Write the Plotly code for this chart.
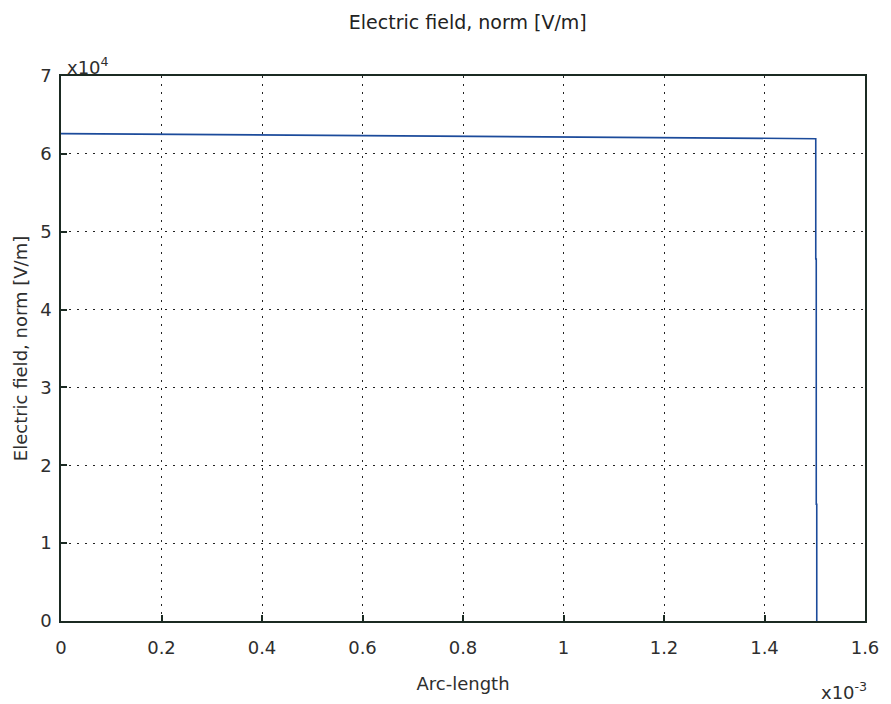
import plotly.graph_objects as go

# Electric field norm along the arc (arc-length in metres, field in V/m)
arc_length = [0.0, 0.0004, 0.0008, 0.0012, 0.001502, 0.001502, 0.001503, 0.001503, 0.001504, 0.001504]
field_norm = [62600, 62450, 62300, 62150, 61950, 46500, 46500, 15000, 15000, 0]

x_tick_vals = [0.0, 0.0002, 0.0004, 0.0006, 0.0008, 0.0010, 0.0012, 0.0014, 0.0016]
x_tick_text = ["0", "0.2", "0.4", "0.6", "0.8", "1", "1.2", "1.4", "1.6"]
y_tick_vals = [0, 10000, 20000, 30000, 40000, 50000, 60000, 70000]
y_tick_text = ["0", "1", "2", "3", "4", "5", "6", "7"]

FONT = "DejaVu Sans, Verdana, sans-serif"
TXT = "#2e2e2e"

fig = go.Figure()
fig.add_trace(go.Scatter(
    x=arc_length, y=field_norm, mode="lines",
    line=dict(color="#1c4b9b", width=1.6),
    showlegend=False,
))

axis_common = dict(
    showline=True, linecolor="#1b2a22", linewidth=1.5, mirror=True,
    ticks="inside", ticklen=6, tickcolor="#1b2a22", tickwidth=1.5,
    showgrid=True, gridcolor="#222222", gridwidth=1, griddash="2px,6px",
    zeroline=False,
    tickfont=dict(family=FONT, size=18, color=TXT),
)

fig.update_xaxes(
    range=[0, 0.0016], tickvals=x_tick_vals, ticktext=x_tick_text,
    ticklabelstandoff=10,
    title=dict(text="Arc-length", font=dict(family=FONT, size=18, color=TXT), standoff=20),
    **axis_common,
)
fig.update_yaxes(
    range=[0, 70000], tickvals=y_tick_vals, ticktext=y_tick_text,
    ticklabelstandoff=4,
    title=dict(text="Electric field, norm [V/m]", font=dict(family=FONT, size=18, color=TXT), standoff=8),
    **axis_common,
)

fig.update_layout(
    width=891, height=704,
    margin=dict(l=61, r=16, t=76, b=83),
    paper_bgcolor="white", plot_bgcolor="white",
    title=dict(text="Electric field, norm [V/m]", x=0.525, xanchor="center", y=0.968, yanchor="middle",
               font=dict(family=FONT, size=19, color="#222222")),
    annotations=[
        dict(text="x10<sup>4</sup>", xref="paper", yref="paper", x=0.0, y=1.0,
             xanchor="left", yanchor="bottom", showarrow=False, yshift=-4, xshift=4,
             font=dict(family=FONT, size=18, color=TXT)),
        dict(text="x10<sup>-3</sup>", xref="paper", yref="paper", x=1.0, y=0.0,
             xanchor="right", yanchor="top", showarrow=False, yshift=-56, xshift=4,
             font=dict(family=FONT, size=18, color=TXT)),
    ],
)

fig.write_html("out.html")
